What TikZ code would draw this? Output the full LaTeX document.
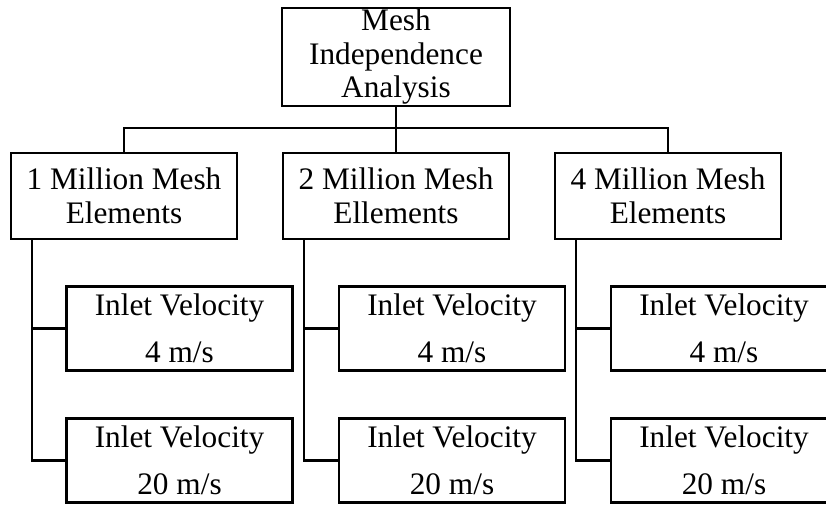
\documentclass[tikz,border=0pt]{standalone}
\usepackage{fontspec}
\setmainfont{Liberation Serif}
\begin{document}
\begin{tikzpicture}[x=1pt,y=-1pt,
  box/.style={draw, line width=2.4pt, inner sep=0pt, align=center,
    font=\fontsize{31.3}{33.5}\selectfont, minimum width=226pt},
  lvl/.style={box, minimum height=86pt},
  leaf/.style={box, minimum height=84pt},
  wire/.style={line width=2.2pt}]
\clip (0,0) rectangle (826,504);

% root
\node[box, minimum width=228pt, minimum height=98pt] (root) at (396,57)
  {Mesh\\Independence\\Analysis};

% mesh sizes
\node[lvl] (m1) at (124,196) {1 Million Mesh\\Elements};
\node[lvl] (m2) at (396,196) {2 Million Mesh\\Ellements};
\node[lvl] (m3) at (668,196) {4 Million Mesh\\Elements};

% inlet velocities
\node[leaf] (a1) at (179.5,328.5) {Inlet Velocity\\[13pt]4 m/s};
\node[leaf] (a2) at (179.5,460.5) {Inlet Velocity\\[13pt]20 m/s};
\node[leaf] (b1) at (452,328.5) {Inlet Velocity\\[13pt]4 m/s};
\node[leaf] (b2) at (452,460.5) {Inlet Velocity\\[13pt]20 m/s};
\node[leaf] (c1) at (724,328.5) {Inlet Velocity\\[13pt]4 m/s};
\node[leaf] (c2) at (724,460.5) {Inlet Velocity\\[13pt]20 m/s};

% root to mesh sizes
\draw[wire] (root.south) -- (m2.north);
\draw[wire] (m1.north) -- ([yshift=23.5pt]m1.north) -| (m3.north);

% mesh sizes to velocities
\foreach \m/\p/\q in {m1/a1/a2, m2/b1/b2, m3/c1/c2}{
  \draw[wire] ([xshift=22pt]\m.south west) |- (\q.west);
  \draw[wire] ([xshift=22pt]\m.south west) |- (\p.west);
}
\end{tikzpicture}
\end{document}
